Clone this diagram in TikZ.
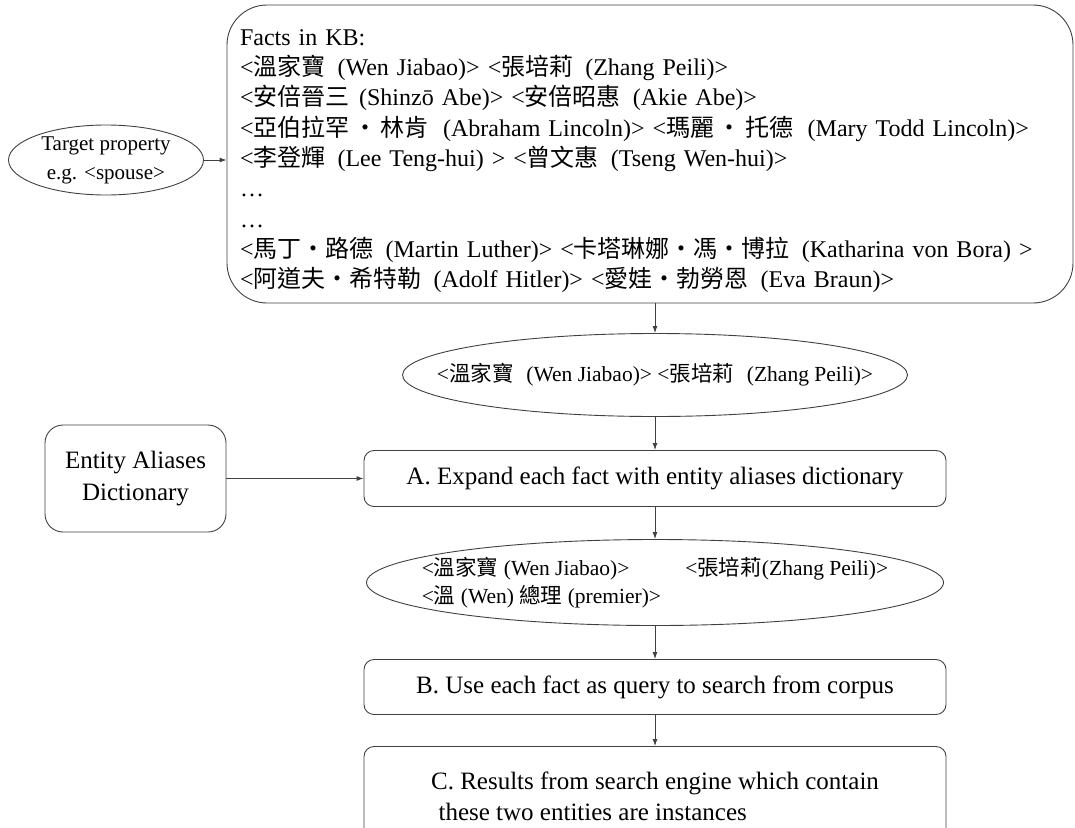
\documentclass[tikz,border=0pt]{standalone}
\usepackage{fontspec}
\setmainfont{Liberation Serif}
\newfontfamily\cjk{Noto Sans CJK TC}
\usetikzlibrary{arrows.meta, positioning, shapes.geometric}
\newcommand{\zh}[1]{{\cjk #1}}

\begin{document}
\begin{tikzpicture}[x=1pt, y=-1pt, >={Latex[length=7pt,width=5pt]}, every node/.style={inner sep=0pt},
	post/.style={->, line width=0.9pt, draw=black!75},
	roundbox/.style={draw=black!75, line width=0.9pt, rectangle, rounded corners=10pt, minimum width=582pt, align=center, font=\fontsize{25}{31}\selectfont},
	oval/.style={draw=black!75, line width=0.9pt, ellipse, font=\fontsize{21.5}{28}\selectfont}]

	\useasboundingbox (0,0) rectangle (1075,827);

	\node [draw=black!75, line width=0.9pt, rounded corners=40pt, minimum width=846pt, minimum height=298pt,
		text width=820pt, align=left, font=\fontsize{24}{30.3}\selectfont] (KB) at (650,154)
		{\rule{0pt}{30pt}Facts in KB:\\
		<\zh{溫家寶}\hspace{0.5em}(Wen Jiabao)> <\zh{張培莉}\hspace{0.5em}(Zhang Peili)>\\
		<\zh{安倍晉三}\hspace{0.4em}(Shinzō Abe)> <\zh{安倍昭惠}\hspace{0.5em}(Akie Abe)>\\
		<\zh{亞伯拉罕\hspace{0.15em}・\hspace{0.15em}林肯}\hspace{0.6em}(Abraham Lincoln)> <\zh{瑪麗\hspace{0.15em}・\hspace{0.15em}托德}\hspace{0.6em}(Mary Todd Lincoln)>\\
		<\zh{李登輝}\hspace{0.5em}(Lee Teng-hui) > <\zh{曾文惠}\hspace{0.5em}(Tseng Wen-hui)>\\
		…\\
		…\\
		<\zh{馬丁·路德}\hspace{0.5em}(Martin Luther)> <\zh{卡塔琳娜·馮·博拉}\hspace{0.5em}(Katharina von Bora) >\\
		<\zh{阿道夫·希特勒}\hspace{0.5em}(Adolf Hitler)> <\zh{愛娃·勃勞恩}\hspace{0.5em}(Eva Braun)>};

	\node [oval, minimum width=195pt, minimum height=70pt, inner ysep=-6pt, align=center, font=\fontsize{21}{29}\selectfont]
		(target) at (106,160) {Target property\\e.g. <spouse>};

	\node [oval, minimum width=505pt, minimum height=83pt, inner xsep=-50pt] (pair) at (655,375)
		{<\zh{溫家寶}\hspace{0.6em}(Wen Jiabao)> <\zh{張培莉}\hspace{0.6em}(Zhang Peili)>};

	\node [roundbox, minimum height=56pt] (expand) [node distance=103.5pt, below of=pair]
		{A. Expand each fact with entity aliases dictionary};

	\node [draw=black!75, line width=0.9pt, rounded corners=18pt, minimum width=181pt, minimum height=107pt,
		align=center, font=\fontsize{25}{32}\selectfont] (alias) [node distance=519.5pt, left of=expand]
		{Entity Aliases\\Dictionary};

	\node [oval, minimum width=577pt, minimum height=86pt, inner xsep=-50pt, align=left] (aliased)
		[node distance=104pt, below of=expand]
		{<\zh{溫家寶} (Wen Jiabao)>\hspace{2.6em}<\zh{張培莉}(Zhang Peili)>\\
		<\zh{溫} (Wen) \zh{總理} (premier)>};

	\node [roundbox, minimum height=55pt] (search) [node distance=104.5pt, below of=aliased]
		{B. Use each fact as query to search from corpus};

	\node [roundbox, minimum height=100pt, align=left] (results) [node distance=109.5pt, below of=search]
		{C. Results from search engine which contain\\
		\hspace*{0.3em}these two entities are instances};

	\draw [post] (target.east) -- (target.east -| KB.west);
	\draw [post] (KB.south -| pair.north) -- (pair.north);
	\draw [post] (alias) -- (expand);
	\draw [post] (pair) -- (expand);
	\draw [post] (expand) -- (aliased);
	\draw [post] (aliased) -- (search);
	\draw [post] (search) -- (results);

\end{tikzpicture}
\end{document}
